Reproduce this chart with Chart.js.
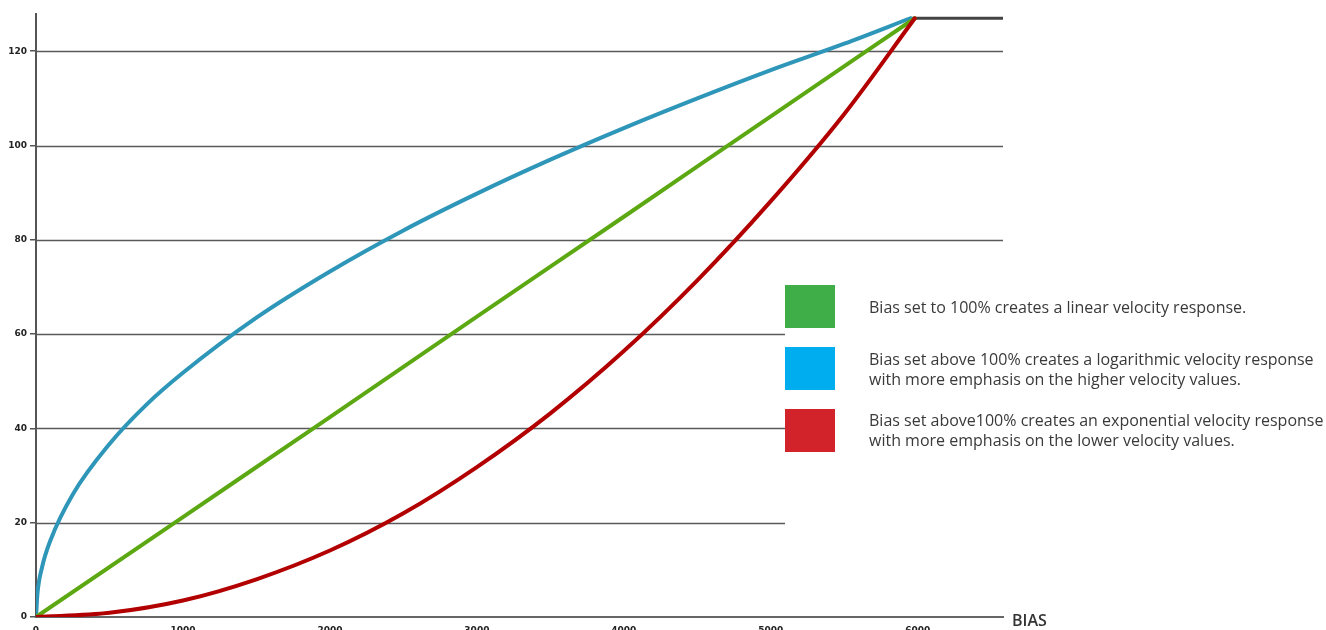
<!DOCTYPE html>
<html>
<head>
<meta charset="utf-8">
<script src="https://cdn.jsdelivr.net/npm/chart.js@4.4.0/dist/chart.umd.min.js"></script>
<style>
  html, body { margin: 0; padding: 0; background: #fff; overflow: hidden; }
  #wrap { position: relative; width: 1326px; height: 640px; }
  .box { position: absolute; left: 785px; width: 50px; height: 43px; }
  .txt { position: absolute; left: 869px; font-family: "Open Sans", sans-serif; font-size: 16px; line-height: 20px; color: #3a3a3a; white-space: nowrap; }
  #bias { position: absolute; left: 1012px; top: 609px; font-family: "Open Sans", sans-serif; font-weight: 600; font-size: 16px; color: #333; }
</style>
</head>
<body>
<div id="wrap">
  <canvas id="chart" width="1326" height="640"></canvas>
  <div class="box" style="top:285px;background:#3fae49"></div>
  <div class="txt" style="top:297px">Bias set to 100% creates a linear velocity response.</div>
  <div class="box" style="top:347px;background:#00aeef"></div>
  <div class="txt" style="top:349px">Bias set above 100% creates a logarithmic velocity response<br>with more emphasis on the higher velocity values.</div>
  <div class="box" style="top:409px;background:#d2232a"></div>
  <div class="txt" style="top:410px">Bias set above100% creates an exponential velocity response<br>with more emphasis on the lower velocity values.</div>
  <div id="bias">BIAS</div>
</div>
<script>
// values (x = bias, y = velocity)
const logX = [0, 10, 40, 100, 250, 500, 750, 1000, 1500, 2000, 2500, 3000, 3500, 4000, 4500, 5000, 5500, 5950];
const logY = [0, 5, 10.4, 16.4, 26, 36.7, 45, 51.8, 63.5, 73.3, 82, 89.8, 97, 103.7, 110, 116, 121.6, 127];

const linX = [0, 1000, 2000, 3000, 4000, 5000, 5980];
const linY = [0, 21.2, 42.4, 63.7, 84.9, 106.2, 127];

const expX = [0, 500, 1000, 1500, 2000, 2500, 3000, 3500, 4000, 4500, 5000, 5500, 5980];
const expY = [0, 0.9, 3.5, 8, 14.1, 22, 31.8, 43.2, 56.4, 71.4, 88.2, 106.7, 127];

const flatX = [5950, 6580];
const flatY = [127, 127];

const yTicks = [0, 20, 40, 60, 80, 100, 120];
const xTicks = [0, 1000, 2000, 3000, 4000, 5000, 6000];
const shortGrid = [20, 40, 60]; // these lines stop where the legend starts

function pts(xs, ys) {
  return xs.map((x, i) => ({ x: x, y: ys[i] }));
}

// gridlines drawn by hand so some can stop short
const gridPlugin = {
  id: "grid",
  beforeDatasetsDraw(chart) {
    const ctx = chart.ctx;
    const ys = chart.scales.y;
    ctx.save();
    ctx.strokeStyle = "#5a5a5a";
    ctx.lineWidth = 1.5;
    for (const v of yTicks) {
      if (v === 0) continue;
      const py = Math.round(ys.getPixelForValue(v)) + 0.5;
      const right = shortGrid.includes(v) ? 785 : chart.chartArea.right;
      ctx.beginPath();
      ctx.moveTo(chart.chartArea.left, py);
      ctx.lineTo(right, py);
      ctx.stroke();
    }
    ctx.restore();
  },
};

const tickFont = { family: "DejaVu Sans", size: 9, weight: "bold" };

new Chart(document.getElementById("chart"), {
  type: "line",
  data: {
    datasets: [
      { data: pts(expX, expY), borderColor: "#b20000", borderWidth: 4 },
      { data: pts(linX, linY), borderColor: "#5ca812", borderWidth: 4 },
      { data: pts(logX, logY), borderColor: "#2e96b8", borderWidth: 4 },
      { data: pts(flatX, flatY), borderColor: "#444444", borderWidth: 3 },
    ],
  },
  options: {
    responsive: false,
    animation: false,
    events: [],
    layout: { padding: { top: 14, right: 323, left: 0, bottom: 0 } },
    elements: {
      point: { radius: 0 },
      line: { cubicInterpolationMode: "monotone", borderCapStyle: "round", borderJoinStyle: "round" },
    },
    plugins: { legend: { display: false }, tooltip: { enabled: false } },
    scales: {
      x: {
        type: "linear",
        min: 0,
        max: 6580,
        afterFit: (s) => { s.height = 23; },
        afterBuildTicks: (s) => { s.ticks = xTicks.map((v) => ({ value: v })); },
        grid: { display: false },
        border: { display: true, color: "#666", width: 2 },
        ticks: { color: "#222", font: tickFont, padding: 0, maxRotation: 0, callback: (v) => String(v) },
      },
      y: {
        type: "linear",
        min: 0,
        max: 127.9,
        afterFit: (s) => { s.width = 36; },
        afterBuildTicks: (s) => { s.ticks = yTicks.map((v) => ({ value: v })); },
        grid: { drawOnChartArea: false, color: "#555", tickLength: 6, lineWidth: 1.5 },
        border: { display: true, color: "#555", width: 2 },
        ticks: { color: "#222", font: tickFont, padding: 3, callback: (v) => String(v) },
      },
    },
  },
  plugins: [gridPlugin],
});
</script>
</body>
</html>
